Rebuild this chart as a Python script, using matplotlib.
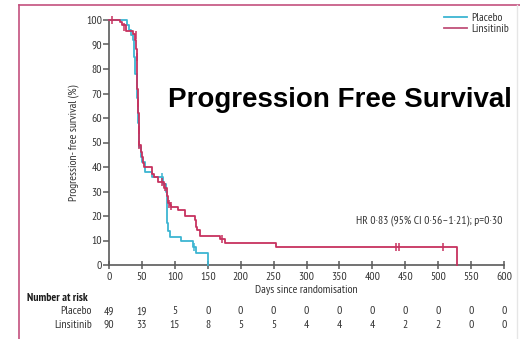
import matplotlib
matplotlib.use("Agg")
import matplotlib.pyplot as plt
from matplotlib.lines import Line2D

# ---------------------------------------------------------------------------
# Data (days, survival %)
# ---------------------------------------------------------------------------
placebo_days = [0, 27, 30, 33, 36, 38, 40, 42, 44, 46, 48, 50, 55, 65, 82, 86, 88, 90, 93, 110, 128, 132, 151]
placebo_surv = [100, 98, 96, 94, 92, 85, 78, 68, 58, 48, 44, 42, 38, 36, 33, 30, 17, 14, 11.5, 9.6, 7.3, 4.9, 0]
placebo_cens_days = [80, 129]
placebo_cens_surv = [35.8, 7.3]

linsi_days = [0, 17, 20, 26, 37, 40, 41, 42, 43, 44, 45, 46, 48, 50, 52, 53, 65, 68, 75, 84, 88, 90,
              92, 94, 105, 115, 130, 132, 134, 138, 169, 176, 254, 528]
linsi_surv = [100, 99, 98, 95.5, 94.4, 92, 88, 80, 72, 62, 55, 49, 46, 44, 41.8, 40, 37, 36, 34, 31.5, 28, 25.5,
              24.6, 23.6, 22.3, 20, 18.5, 15.7, 14.3, 11.9, 10.8, 8.9, 7.2, 0]
linsi_cens_days = [4, 23, 41, 42, 43.5, 45.5, 46, 80.5, 85, 90.7, 94, 171, 436, 441, 507]
linsi_cens_surv = [100, 97, 94, 85, 66, 55, 49, 34, 32, 25, 23.9, 10.8, 7.2, 7.2, 7.2]

x_ticks = list(range(0, 601, 50))
y_ticks = list(range(0, 101, 10))
risk_placebo = [49, 19, 5, 0, 0, 0, 0, 0, 0, 0, 0, 0, 0]
risk_linsi = [90, 33, 15, 8, 5, 5, 4, 4, 4, 2, 2, 0, 0]

PLACEBO_COLOR = "#3db5d2"
LINSI_COLOR = "#c7325f"
AXIS_COLOR = "#5a5a5a"
TEXT_COLOR = "#333333"
FONT = ["PT Sans Narrow", "DejaVu Sans"]
FS = 8.4

W, H = 520, 339


def fx(px):
    return px / W


def fy(py):
    return 1 - py / H


def main() -> None:
    fig = plt.figure(figsize=(W / 100, H / 100), dpi=100)
    fig.patch.set_facecolor("white")

    ax = fig.add_axes([fx(109), fy(265), fx(504) - fx(109), fy(20) - fy(265)])
    ax.set_xlim(0, 600)
    ax.set_ylim(0, 100)

    ax.step(placebo_days, placebo_surv, where="post", color=PLACEBO_COLOR, lw=1.3, clip_on=False, zorder=3)
    ax.step(linsi_days, linsi_surv, where="post", color=LINSI_COLOR, lw=1.3, clip_on=False, zorder=4)
    ax.plot(placebo_cens_days, placebo_cens_surv, ls="none", marker="|", ms=6, mew=1.1,
            color=PLACEBO_COLOR, clip_on=False, zorder=3)
    ax.plot(linsi_cens_days, linsi_cens_surv, ls="none", marker="|", ms=6, mew=1.1,
            color=LINSI_COLOR, clip_on=False, zorder=4)

    for side in ("top", "right"):
        ax.spines[side].set_visible(False)
    for side in ("left", "bottom"):
        ax.spines[side].set_color(AXIS_COLOR)
        ax.spines[side].set_linewidth(1.2)

    ax.set_xticks(x_ticks)
    ax.set_yticks(y_ticks)
    ax.tick_params(axis="x", direction="inout", length=6, width=1.1, color=AXIS_COLOR,
                   labelsize=FS, labelcolor=TEXT_COLOR, pad=2)
    ax.tick_params(axis="y", direction="out", length=4, width=1.1, color=AXIS_COLOR,
                   labelsize=FS, labelcolor=TEXT_COLOR, pad=1)
    for lab in ax.get_xticklabels() + ax.get_yticklabels():
        lab.set_family(FONT)

    ax.set_xlabel("Days since randomisation", family=FONT, fontsize=FS, color=TEXT_COLOR, labelpad=2)
    ax.set_ylabel("Progression- free survival (%)", family=FONT, fontsize=FS, color=TEXT_COLOR, labelpad=5)

    ax.text(0.995, 0.18, "HR 0·83 (95% CI 0·56–1·21); p=0·30", transform=ax.transAxes,
            ha="right", va="center", family=FONT, fontsize=FS, color=TEXT_COLOR)

    handles = [Line2D([], [], color=PLACEBO_COLOR, lw=1.3), Line2D([], [], color="#c0507a", lw=1.3)]
    fig.legend(handles, ["Placebo", "Linsitinib"], loc="upper left", bbox_to_anchor=(fx(444), fy(13)),
               frameon=False, handlelength=2.0, handletextpad=0.3, labelspacing=0.1,
               borderaxespad=0, borderpad=0, prop={"family": FONT, "size": FS},
               labelcolor=TEXT_COLOR)

    fig.text(fx(340), fy(100), "Progression Free Survival", ha="center", va="center",
             family=["Liberation Sans", "DejaVu Sans"], fontweight="bold", fontsize=20, color="black")

    # number at risk table
    fig.text(fx(27), fy(298), "Number at risk", ha="left", va="center", family=FONT,
             fontweight="bold", fontsize=FS, color="#1a1a1a")
    fig.text(fx(92), fy(311.5), "Placebo", ha="right", va="center", family=FONT, fontsize=FS, color=TEXT_COLOR)
    fig.text(fx(92), fy(324.5), "Linsitinib", ha="right", va="center", family=FONT, fontsize=FS, color=TEXT_COLOR)
    for day, p, l in zip(x_ticks, risk_placebo, risk_linsi):
        xf = ax.transData.transform((day, 0))[0] / fig.bbox.width
        fig.text(xf, fy(311.5), str(p), ha="center", va="center", family=FONT, fontsize=FS, color=TEXT_COLOR)
        fig.text(xf, fy(324.5), str(l), ha="center", va="center", family=FONT, fontsize=FS, color=TEXT_COLOR)

    # slide frame
    frame_color = "#c4507e"
    fig.add_artist(Line2D([fx(19), 1], [fy(5), fy(5)], color=frame_color, lw=1.2))
    fig.add_artist(Line2D([fx(19), fx(19)], [fy(5), 0], color=frame_color, lw=1.2))
    fig.add_artist(Line2D([fx(517), fx(517)], [fy(5), 0], color="#e6e6e6", lw=1.0))

    fig.savefig("out.png", dpi=100)


if __name__ == "__main__":
    main()
